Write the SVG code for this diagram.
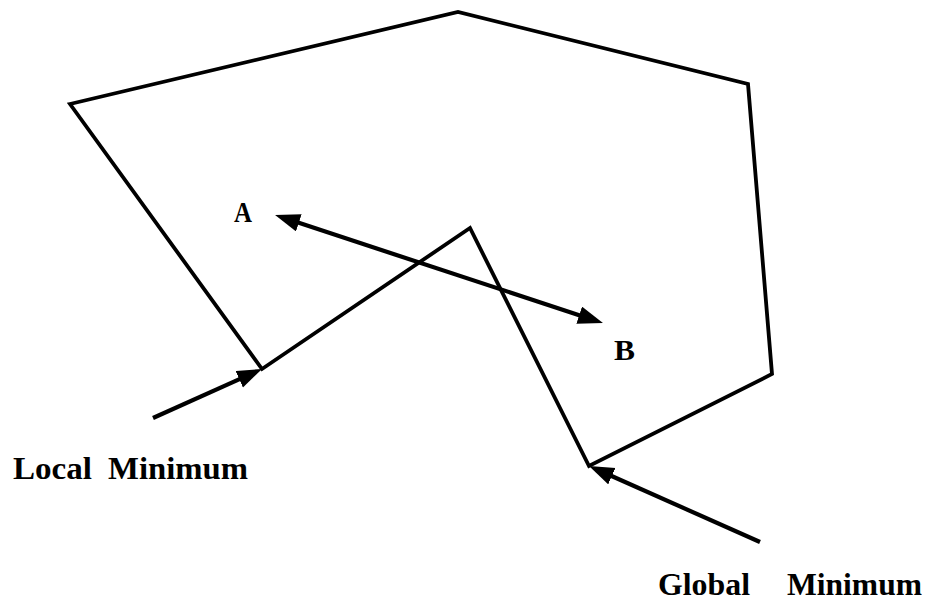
<svg xmlns="http://www.w3.org/2000/svg" width="939" height="613" viewBox="0 0 939 613">
<style>
.shape{fill:none;stroke:#000;stroke-width:3.8;stroke-linejoin:miter}
.conn{fill:none;stroke:#000;stroke-width:4.2}
.lbl{font-family:"Liberation Serif","Times New Roman",serif;font-weight:bold;fill:#000}
</style>
<defs>
<marker id="ah" markerUnits="userSpaceOnUse" markerWidth="28" markerHeight="20" refX="4" refY="9" orient="auto-start-reverse" viewBox="0 0 28 20">
<path d="M0,0 L25,9 L0,18 z" fill="#000"/>
</marker>
</defs>
<rect width="939" height="613" fill="#fff"/>
<g id="region">
<polygon class="shape" points="70,104 458,12 748,84 772,374 589,466 470,228 262,369"/>
</g>
<g id="connectors">
<path class="conn" d="M295,221.6 L583,316.4" marker-start="url(#ah)" marker-end="url(#ah)"/>
<path class="conn" d="M153,418 L242.9,377.6" marker-end="url(#ah)"/>
<path class="conn" d="M760,542 L608.2,474.5" marker-end="url(#ah)"/>
</g>
<g id="label-A"><text class="lbl" x="234" y="222" font-size="29" textLength="18" lengthAdjust="spacingAndGlyphs">A</text></g>
<g id="label-B"><text class="lbl" x="614" y="360" font-size="30" textLength="21" lengthAdjust="spacingAndGlyphs">B</text></g>
<g id="label-local">
<text class="lbl" x="13" y="479" font-size="32" textLength="79" lengthAdjust="spacingAndGlyphs">Local</text>
<text class="lbl" x="108" y="479" font-size="32" textLength="140" lengthAdjust="spacingAndGlyphs">Minimum</text>
</g>
<g id="label-global">
<text class="lbl" x="658" y="595" font-size="31" textLength="92" lengthAdjust="spacingAndGlyphs">Global</text>
<text class="lbl" x="787" y="595" font-size="31" textLength="135" lengthAdjust="spacingAndGlyphs">Minimum</text>
</g>
</svg>
